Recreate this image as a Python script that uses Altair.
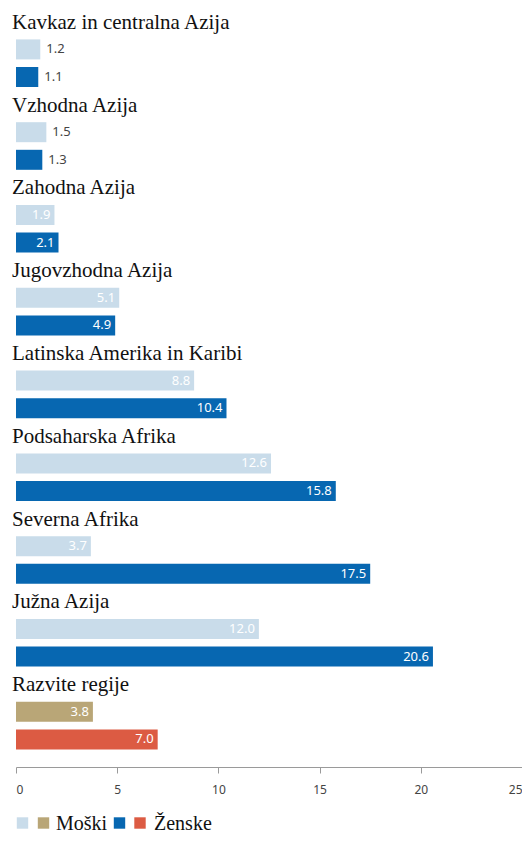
import altair as alt
import pandas as pd

regions = [
    "Kavkaz in centralna Azija",
    "Vzhodna Azija",
    "Zahodna Azija",
    "Jugovzhodna Azija",
    "Latinska Amerika in Karibi",
    "Podsaharska Afrika",
    "Severna Afrika",
    "Južna Azija",
    "Razvite regije",
]
men = [1.2, 1.5, 1.9, 5.1, 8.8, 12.6, 3.7, 12.0, 3.8]
women = [1.1, 1.3, 2.1, 4.9, 10.4, 15.8, 17.5, 20.6, 7.0]
x_ticks = [0, 5, 10, 15, 20, 25]
series_names = ["Moški razv.", "Ženske razv.", "Moški razvite", "Ženske razvite"]
series_colors = ["#c9dcea", "#0767b1", "#b9a677", "#dc5b43"]
legend_labels = ["Moški", "Ženske"]

SERIF = "Liberation Serif, Times New Roman, DejaVu Serif, serif"

# build tables
title_rows = []
bar_rows = []
for i, (r, m, w) in enumerate(zip(regions, men, women)):
    developed = r == "Razvite regije"
    title_rows.append({"row": 3 * i, "text": r, "zero": 0})
    bar_rows.append({"row": 3 * i + 1, "value": m, "zero": 0,
                     "series": series_names[2] if developed else series_names[0],
                     "label": f"{m:.1f}"})
    bar_rows.append({"row": 3 * i + 2, "value": w, "zero": 0,
                     "series": series_names[3] if developed else series_names[1],
                     "label": f"{w:.1f}"})
titles = pd.DataFrame(title_rows)
bars = pd.DataFrame(bar_rows)
bars["outside"] = bars["value"] < 1.8

yscale = alt.Scale(domain=[-0.5, 27], reverse=True, nice=False, zero=False, padding=0)
xscale = alt.Scale(domain=[0, 25], nice=False, padding=0)
Y = alt.Y("row:Q", scale=yscale, axis=None)

bar_layer = alt.Chart(bars).mark_bar(orient="horizontal", size=20).encode(
    x=alt.X("value:Q", scale=xscale,
            axis=alt.Axis(values=x_ticks, grid=False, title=None,
                          domainColor="#9a9a9a", tickColor="#9a9a9a", tickSize=6,
                          labelPadding=11, labelFont="Noto Sans", labelFontSize=12,
                          labelColor="#444", labelFlush=True, format="d")),
    x2=alt.X2("zero:Q"),
    y=Y,
    color=alt.Color("series:N", scale=alt.Scale(domain=series_names, range=series_colors),
                    legend=None),
)

inside_labels = alt.Chart(bars).transform_filter("!datum.outside").mark_text(
    align="right", baseline="middle", dx=-4, font="Noto Sans", fontSize=13, color="white"
).encode(x=alt.X("value:Q", scale=xscale), y=Y, text="label:N")

outside_labels = alt.Chart(bars).transform_filter("datum.outside").mark_text(
    align="left", baseline="middle", dx=6, font="Noto Sans", fontSize=13, color="#444"
).encode(x=alt.X("value:Q", scale=xscale), y=Y, text="label:N")

title_layer = alt.Chart(titles).mark_text(
    align="left", baseline="middle", dx=-4, dy=1, font=SERIF, fontSize=21,
    color="#111"
).encode(x=alt.X("zero:Q", scale=xscale), y=Y, text="text:N")

# custom legend (light blue, tan, "Moški", dark blue, red, "Ženske")
legend_y = 815
legend_sq_colors = [series_colors[0], series_colors[2], series_colors[1], series_colors[3]]
sq_x = [6.5, 27.5, 103.5, 124]
legend_layers = []
for c, xv in zip(legend_sq_colors, sq_x):
    legend_layers.append(
        alt.Chart(pd.DataFrame({"c": [c]})).mark_square(size=130, opacity=1, filled=True).encode(
            x=alt.value(xv), y=alt.value(legend_y), color=alt.value(c))
    )
for lbl, xv in zip(legend_labels, [40, 138]):
    legend_layers.append(
        alt.Chart(pd.DataFrame({"t": [lbl]})).mark_text(
            align="left", baseline="middle", font=SERIF, fontSize=20, color="#111"
        ).encode(x=alt.value(xv), y=alt.value(legend_y + 1), text="t:N")
    )

chart = alt.layer(bar_layer, inside_labels, outside_labels, title_layer, *legend_layers).properties(
    width=506, height=759,
    autosize=alt.AutoSizeParams(type="none"),
    padding={"left": 8, "right": 0, "top": 0, "bottom": 68},
).configure_view(stroke=None)

chart.save("out.html", embed_options={"renderer": "svg", "actions": False})
